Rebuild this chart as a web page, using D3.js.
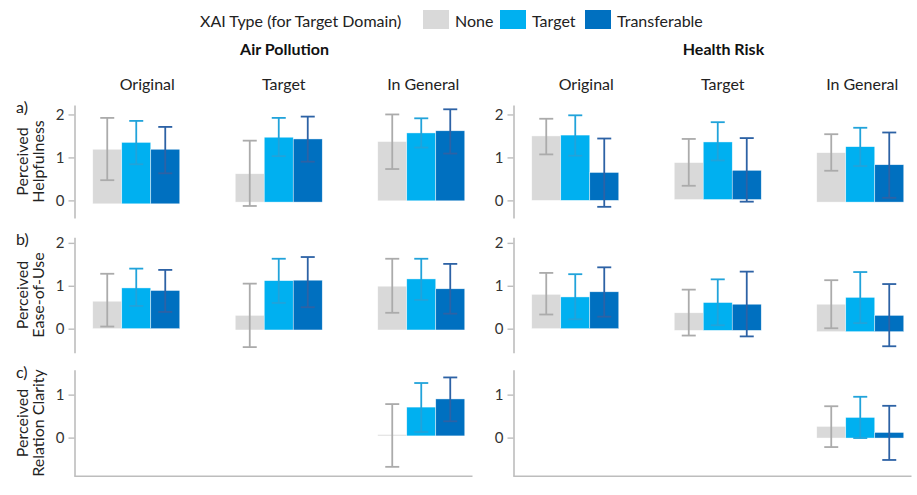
<!DOCTYPE html>
<html>
<head>
<meta charset="utf-8">
<script src="https://cdn.jsdelivr.net/npm/d3@7"></script>
<style>
  body { margin: 0; background: #fff; }
  svg { display: block; font-family: Lato, "Open Sans", sans-serif; }
</style>
</head>
<body>
<script>
const xaiTypes = ["None", "Target", "Transferable"];
const domains = ["Air Pollution", "Health Risk"];
const contexts = ["Original", "Target", "In General"];
const measures = ["Perceived|Helpfulness", "Perceived|Ease-of-Use", "Perceived|Relation Clarity"];
const rowTags = ["a)", "b)", "c)"];

// a) perceived helpfulness  [context][xai type]
const helpAirMean = [[1.19, 1.35, 1.19], [0.62, 1.47, 1.43], [1.37, 1.57, 1.62]];
const helpAirLo = [[0.47, 0.84, 0.63], [-0.13, 1.03, 0.90], [0.73, 1.23, 1.09]];
const helpAirHi = [[1.92, 1.85, 1.71], [1.39, 1.92, 1.95], [2.00, 1.91, 2.12]];
const helpAirBase = [-0.08, -0.04, -0.01];
const helpHealthMean = [[1.50, 1.52, 0.65], [0.88, 1.36, 0.70], [1.11, 1.25, 0.83]];
const helpHealthLo = [[1.07, 1.04, -0.15], [0.34, 0.93, -0.03], [0.69, 0.80, 0.06]];
const helpHealthHi = [[1.90, 1.98, 1.44], [1.43, 1.82, 1.45], [1.54, 1.69, 1.58]];
const helpHealthBase = [0, 0.02, -0.04];

// b) perceived ease-of-use
const easeAirMean = [[0.64, 0.95, 0.89], [0.31, 1.12, 1.13], [0.99, 1.16, 0.93]];
const easeAirLo = [[0.05, 0.53, 0.39], [-0.43, 0.60, 0.50], [0.37, 0.67, 0.35]];
const easeAirHi = [[1.28, 1.40, 1.37], [1.05, 1.63, 1.67], [1.63, 1.63, 1.51]];
const easeAirBase = [0, -0.03, -0.03];
const easeHealthMean = [[0.80, 0.74, 0.86], [0.37, 0.61, 0.57], [0.57, 0.73, 0.31]];
const easeHealthLo = [[0.33, 0.22, 0.28], [-0.16, 0.08, -0.18], [0.01, 0.13, -0.41]];
const easeHealthHi = [[1.30, 1.27, 1.43], [0.91, 1.15, 1.33], [1.13, 1.32, 1.04]];
const easeHealthBase = [0, -0.04, -0.07];

// c) perceived relation clarity (only asked "in general")
const clarAirMean = [null, null, [0.07, 0.71, 0.90]];
const clarAirLo = [null, null, [-0.68, 0.13, 0.38]];
const clarAirHi = [null, null, [0.78, 1.27, 1.40]];
const clarAirBase = [null, null, 0.04];
const clarHealthMean = [null, null, [0.26, 0.47, 0.12]];
const clarHealthLo = [null, null, [-0.22, -0.01, -0.52]];
const clarHealthHi = [null, null, [0.73, 0.95, 0.74]];
const clarHealthBase = [null, null, -0.01];

const yDomains = [[-0.41, 2.22], [-0.56, 2.13], [-0.9, 1.58]];
const yTicks = [[0, 1, 2], [0, 1, 2], [0, 1]];

const width = 917, height = 495;
const barColor = d3.scaleOrdinal().domain(xaiTypes).range(["#d9d9d9", "#00b0f0", "#0070c0"]);
const errColor = d3.scaleOrdinal().domain(xaiTypes).range(["#ababab", "#21a3da", "#2d62a5"]);
const axisColor = "#bdbdbd";

const panels = [
  [[helpAirMean, helpAirLo, helpAirHi, helpAirBase], [helpHealthMean, helpHealthLo, helpHealthHi, helpHealthBase]],
  [[easeAirMean, easeAirLo, easeAirHi, easeAirBase], [easeHealthMean, easeHealthLo, easeHealthHi, easeHealthBase]],
  [[clarAirMean, clarAirLo, clarAirHi, clarAirBase], [clarHealthMean, clarHealthLo, clarHealthHi, clarHealthBase]]
];

const colLeft = [74.5, 513.5];
const panelW = 398;
const rowRange = [[218, 105], [352.7, 237.3], [476.3, 369.7]];
const headerShift = [11, 5, 2];

const svg = d3.select("body").append("svg")
  .attr("width", width)
  .attr("height", height);

// legend
const legend = svg.append("g").attr("transform", "translate(200,27)");
legend.append("text").attr("x", 0).attr("y", 0)
  .style("font-size", "16px").attr("fill", "#222")
  .text("XAI Type (for Target Domain)");
const legX = [223, 300, 385];
xaiTypes.forEach((t, i) => {
  legend.append("rect").attr("x", legX[i]).attr("y", -17).attr("width", 26).attr("height", 19)
    .attr("fill", barColor(t));
  legend.append("text").attr("x", legX[i] + 32).attr("y", 0)
    .style("font-size", "16px").attr("fill", "#222").text(t);
});

domains.forEach((dom, c) => {
  const x0 = colLeft[c];
  svg.append("text")
    .attr("x", x0 + panelW / 2 + 11).attr("y", 55)
    .attr("text-anchor", "middle")
    .style("font-size", "16px").style("font-weight", "bold").attr("fill", "#111")
    .text(dom);

  const xGroup = d3.scaleBand().domain(contexts).range([x0 - 9.5, x0 + 418]);
  const xBar = d3.scaleBand().domain(xaiTypes).range([-43.5, 43.5]);

  contexts.forEach((ctx, k) => {
    svg.append("text")
      .attr("x", xGroup(ctx) + xGroup.bandwidth() / 2 + headerShift[k]).attr("y", 90)
      .attr("text-anchor", "middle")
      .style("font-size", "16px").attr("fill", "#222")
      .text(ctx);
  });

  measures.forEach((m, r) => {
    const y = d3.scaleLinear().domain(yDomains[r]).range(rowRange[r]);
    const g = svg.append("g");

    const axis = g.append("g")
      .attr("transform", `translate(${x0},0)`)
      .call(d3.axisLeft(y).tickValues(yTicks[r]).tickSize(6).tickSizeOuter(0).tickPadding(4).tickFormat(d3.format("d")));
    axis.select(".domain").attr("stroke", axisColor).attr("stroke-width", 1.6);
    axis.selectAll(".tick line").attr("stroke", axisColor).attr("stroke-width", 1.4);
    axis.selectAll(".tick text").style("font-size", "15px").attr("fill", "#333")
      .style("font-family", "Lato, sans-serif");

    if (r === 2) {
      g.append("line")
        .attr("x1", x0).attr("x2", x0 + panelW)
        .attr("y1", y.range()[0]).attr("y2", y.range()[0])
        .attr("stroke", axisColor).attr("stroke-width", 1.6);
    }

    if (c === 0) {
      const yc = (rowRange[r][0] + rowRange[r][1]) / 2;
      const lines = m.split("|");
      const lab = svg.append("text")
        .attr("transform", `translate(28,${yc}) rotate(-90)`)
        .attr("text-anchor", "middle")
        .style("font-size", "16px").attr("fill", "#222");
      lines.forEach((ln, i) => {
        lab.append("tspan").attr("x", 0).attr("dy", i === 0 ? 0 : 16).text(ln);
      });
      svg.append("text")
        .attr("x", 16).attr("y", rowRange[r][1] + 8)
        .style("font-size", "16px").attr("fill", "#222")
        .text(rowTags[r]);
    }

    const [mean, lo, hi, base] = panels[r][c];
    const rows = [];
    contexts.forEach((ctx, k) => {
      if (!mean[k]) return;
      xaiTypes.forEach((t, j) => {
        rows.push({ctx, t, v: mean[k][j], lo: lo[k][j], hi: hi[k][j], b: base[k]});
      });
    });

    const cx = d => xGroup(d.ctx) + xGroup.bandwidth() / 2 + xBar(d.t);

    g.selectAll("rect.bar")
      .data(rows)
      .join("rect")
      .attr("class", "bar")
      .attr("x", d => cx(d))
      .attr("width", xBar.bandwidth())
      .attr("y", d => y(Math.max(d.v, d.b)))
      .attr("height", d => Math.max(1.2, Math.abs(y(d.b) - y(d.v))))
      .attr("fill", d => barColor(d.t))
      .attr("stroke", "#fff").attr("stroke-width", 0.6).attr("stroke-opacity", 0.7);

    const eb = g.selectAll("g.err")
      .data(rows)
      .join("g")
      .attr("class", "err")
      .attr("stroke", d => errColor(d.t))
      .attr("stroke-width", 1.8)
      .attr("transform", d => `translate(${cx(d) + xBar.bandwidth() / 2},0)`);
    eb.append("line").attr("y1", d => y(d.lo)).attr("y2", d => y(d.hi));
    eb.append("line").attr("x1", -7).attr("x2", 7).attr("y1", d => y(d.hi)).attr("y2", d => y(d.hi));
    eb.append("line").attr("x1", -7).attr("x2", 7).attr("y1", d => y(d.lo)).attr("y2", d => y(d.lo));
  });
});
</script>
</body>
</html>
